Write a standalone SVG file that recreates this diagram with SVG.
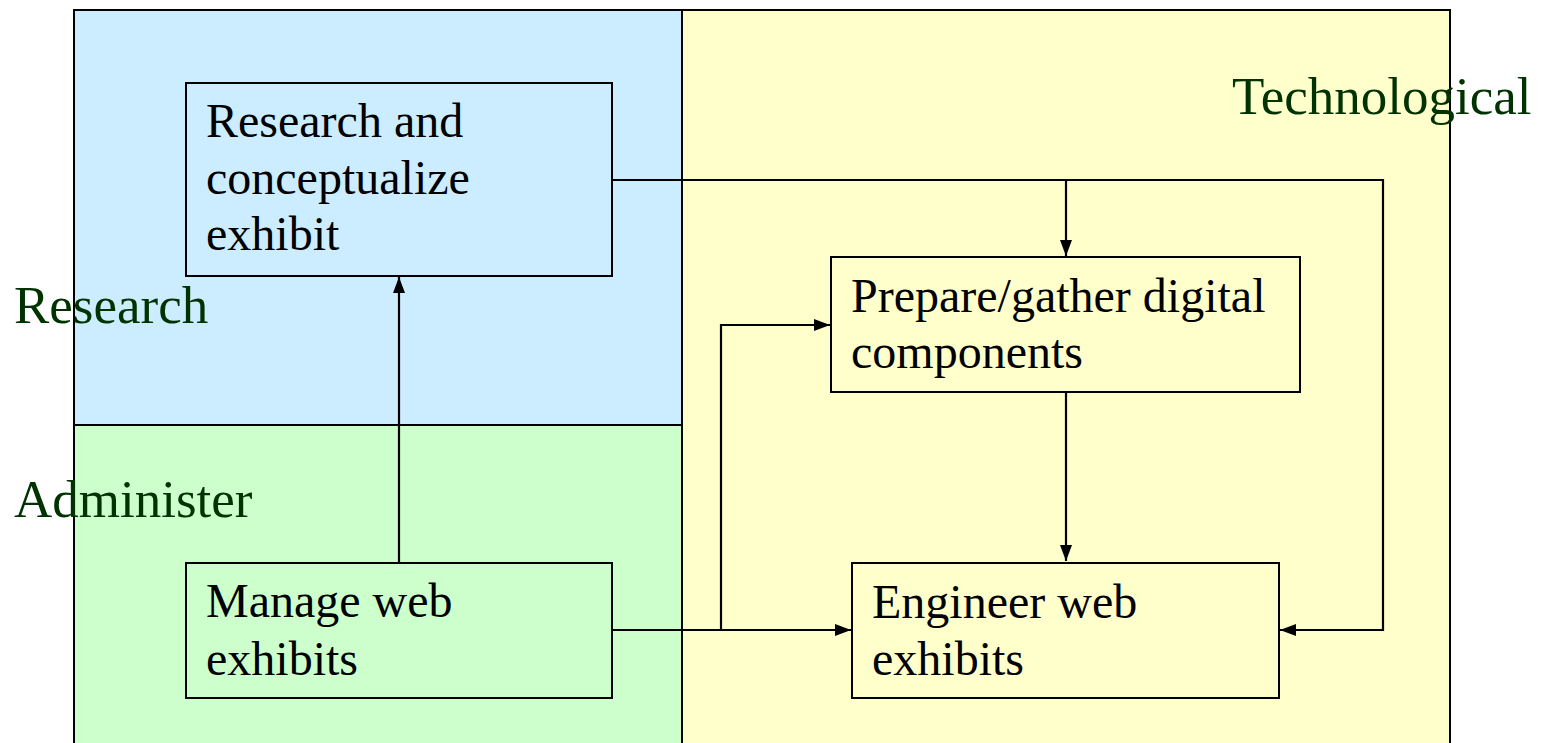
<svg xmlns="http://www.w3.org/2000/svg" width="1541" height="743" viewBox="0 0 1541 743">
<style>
.node rect{stroke:#000;stroke-width:2}
.node text{font-family:"Liberation Serif","Times New Roman",serif;font-size:48px;fill:#000}
.lane{font-family:"Liberation Serif","Times New Roman",serif;font-size:53px;fill:#003300}
.conn{fill:none;stroke:#000;stroke-width:2.2}
</style>
<defs>
<marker id="arr" viewBox="0 0 16 12" refX="16" refY="6" markerWidth="16" markerHeight="12" markerUnits="userSpaceOnUse" orient="auto">
<path d="M0,0 L16,6 L0,12 Z" fill="#000"/>
</marker>
</defs>
<g id="lanes">
<rect x="74" y="10" width="608" height="415" fill="#CCECFF"/>
<rect x="74" y="425" width="608" height="330" fill="#CCFFCC"/>
<rect x="682" y="10" width="768" height="745" fill="#FFFFCC"/>
<path d="M74,755 V10 H1450 V755 M682,10 V755 M74,425 H682" fill="none" stroke="#000" stroke-width="2"/>
</g>
<g id="lane-labels">
<text class="lane" x="14" y="323">Research</text>
<text class="lane" x="14" y="517">Administer</text>
<text class="lane" x="1232" y="114">Technological</text>
</g>
<g id="connectors">
<path class="conn" d="M399,562 V277" marker-end="url(#arr)"/>
<path class="conn" d="M612,180 H1383 V630 H1280" marker-end="url(#arr)"/>
<path class="conn" d="M1066,180 V256" marker-end="url(#arr)"/>
<path class="conn" d="M612,630 H851" marker-end="url(#arr)"/>
<path class="conn" d="M721,630 V325 H830" marker-end="url(#arr)"/>
<path class="conn" d="M1066,393 V561" marker-end="url(#arr)"/>
</g>
<g id="node-research" class="node">
<rect x="186" y="83" width="426" height="193" fill="#CCECFF"/>
<text x="206" y="137">Research and</text>
<text x="206" y="194">conceptualize</text>
<text x="206" y="250">exhibit</text>
</g>
<g id="node-prepare" class="node">
<rect x="831" y="257" width="469" height="135" fill="#FFFFCC"/>
<text x="851" y="312">Prepare/gather digital</text>
<text x="851" y="368">components</text>
</g>
<g id="node-manage" class="node">
<rect x="186" y="563" width="426" height="135" fill="#CCFFCC"/>
<text x="206" y="617">Manage web</text>
<text x="206" y="675">exhibits</text>
</g>
<g id="node-engineer" class="node">
<rect x="852" y="563" width="427" height="135" fill="#FFFFCC"/>
<text x="872" y="618">Engineer web</text>
<text x="872" y="675">exhibits</text>
</g>
</svg>
